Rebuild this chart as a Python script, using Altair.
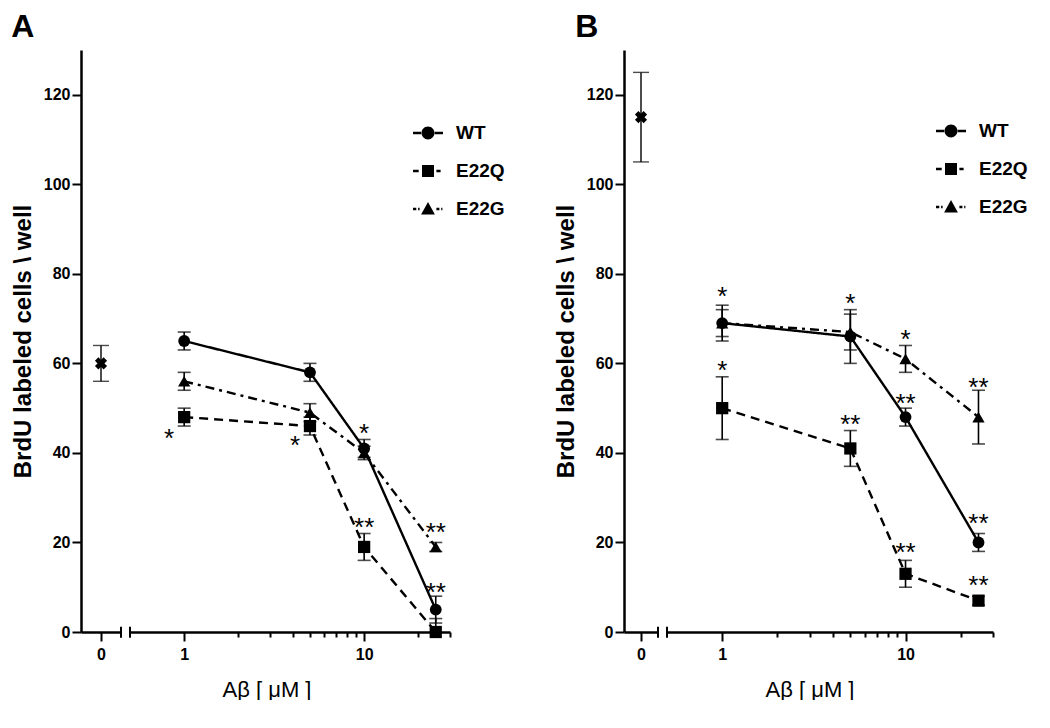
import altair as alt
import pandas as pd

FONT = "Liberation Sans"

# ---------------- data ----------------
CONC = [1, 5, 10, 25]
SERIES = ["WT", "E22Q", "E22G"]

A_WT = [65, 58, 41, 5]
A_WT_ERR = [2, 2, 2, 3]
A_E22Q = [48, 46, 19, 0]
A_E22Q_ERR = [2, 2, 3, 3]
A_E22G = [56, 49, 40, 19]
A_E22G_ERR = [2, 2, 1.5, 1]
A_CTRL = 60
A_CTRL_ERR = 4

B_WT = [69, 66, 48, 20]
B_WT_ERR = [4, 6, 2, 2]
B_E22Q = [50, 41, 13, 7]
B_E22Q_ERR = [7, 4, 3, 1]
B_E22G = [69, 67, 61, 48]
B_E22G_ERR = [3, 4, 3, 6]
B_CTRL = 115
B_CTRL_ERR = 10

# significance marks (x = concentration, y = level in data units)
A_STAR_X = [10, 10, 25, 25]
A_STAR_Y = [45.8, 24.8, 23.7, 10.3]
A_STAR_T = ["*", "**", "**", "**"]
A_STARL_X = [1, 5]
A_STARL_Y = [44.7, 43.1]
A_STARL_T = ["*", "*"]

B_STAR_X = [1, 1, 5, 10, 10, 5, 25, 25, 10, 25]
B_STAR_Y = [76.3, 59.9, 74.8, 66.8, 52.6, 47.7, 56.1, 25.7, 19.1, 11.8]
B_STAR_T = ["*", "*", "*", "*", "**", "**", "**", "**", "**", "**"]
B_STARL_X = []
B_STARL_Y = []
B_STARL_T = []

Y_TICKS = [0, 20, 40, 60, 80, 100, 120]
LOG_TICKS = [1, 2, 3, 4, 5, 6, 7, 8, 9, 10, 20, 30]

# ---------------- styling ----------------
Y_DOMAIN = [0, 130]
LOG_DOMAIN = [0.5, 30]
H = 582
GAP = 7

DASHES = {"WT": [1, 0], "E22Q": [9, 6], "E22G": [9, 5, 3, 5]}
SHAPES = {"WT": "circle", "E22Q": "square", "E22G": "triangle-up"}
SIZES = {"WT": 140, "E22Q": 150, "E22G": 150}
# legend glyphs: line pieces drawn as thin filled bars plus the marker
LEG_PATHS = [
    "M-1,-0.08H-0.4V0.08H-1Z M0.4,-0.08H1V0.08H0.4Z "
    "M-0.43,0A0.43,0.43,0,1,0,0.43,0A0.43,0.43,0,1,0,-0.43,0Z",
    "M-1,-0.08H-0.62V0.08H-1Z M0.56,-0.08H0.84V0.08H0.56Z M-0.4,-0.4H0.4V0.4H-0.4Z",
    "M-1,-0.08H-0.78V0.08H-1Z M-0.66,-0.08H-0.56V0.08H-0.66Z "
    "M0.56,-0.08H0.76V0.08H0.56Z M0.88,-0.08H0.96V0.08H0.88Z M0,-0.46L0.46,0.36H-0.46Z",
]


def yscale():
    return alt.Scale(domain=Y_DOMAIN, nice=False, zero=False)


def make_panel(vals, errs, ctrl, ctrl_err, stars, starsl, letter, letter_dx,
               zero_w, log_w, leg_x, leg_y):
    # control (zero) sub-plot
    cdf = pd.DataFrame({"conc": [0], "value": [ctrl],
                        "lo": [ctrl - ctrl_err], "hi": [ctrl + ctrl_err]})
    xz = alt.X("conc:Q", scale=alt.Scale(domain=[-1, 1], nice=False, zero=False),
               axis=alt.Axis(values=[0], title=None, tickSize=9, labelPadding=5))
    yz = alt.Y("value:Q", scale=yscale(),
               axis=alt.Axis(values=Y_TICKS, title="BrdU labeled cells \\ well",
                             tickSize=9, labelPadding=2, titleFontSize=24,
                             titleFontWeight="bold", titlePadding=8))
    cbase = alt.Chart(cdf)
    c_pt = cbase.mark_point(shape="cross", angle=45, filled=True, size=150,
                            color="black", opacity=1).encode(x=xz, y=yz)
    c_rule = cbase.mark_rule(color="black", strokeWidth=1.4).encode(
        x="conc:Q", y=alt.Y("lo:Q", scale=yscale()), y2="hi:Q")
    c_cap = alt.Chart(cdf).transform_fold(["lo", "hi"], as_=["k", "v"]).mark_tick(
        orient="horizontal", color="black", size=16, thickness=1.4).encode(
        x="conc:Q", y=alt.Y("v:Q", scale=yscale()))
    brk = alt.Chart(pd.DataFrame({"k": [0]})).mark_rule(color="black", strokeWidth=2).encode(
        x=alt.datum(1), y=alt.datum(-1.3), y2=alt.datum(1.2))
    zero_chart = alt.layer(c_rule, c_cap, c_pt, brk).properties(width=zero_w, height=H)

    # log sub-plot
    rows = []
    for s in SERIES:
        for c, v, e in zip(CONC, vals[s], errs[s]):
            rows.append({"series": s, "conc": c, "value": v,
                         "lo": max(v - e, 0), "hi": v + e})
    df = pd.DataFrame(rows)
    tx = (zero_w + GAP + log_w) / 2 - zero_w - GAP
    xl = alt.X("conc:Q", scale=alt.Scale(type="log", domain=LOG_DOMAIN, nice=False),
               axis=alt.Axis(values=LOG_TICKS, labelOverlap=False,
                             labelExpr="datum.value == 1 ? '1' : (datum.value == 10 ? '10' : '')",
                             tickSize={"condition": {"test": "datum.value == 1 || datum.value == 10",
                                                     "value": 9}, "value": 5},
                             labelPadding=5,
                             title="A\u03b2 [ \u03bcM ]", titleFontSize=22,
                             titleFontWeight="normal", titleX=tx, titlePadding=17))
    yl = alt.Y("value:Q", scale=yscale(), axis=None)
    base = alt.Chart(df)
    layers = []
    layers.append(base.mark_rule(color="black", strokeWidth=1.6).encode(
        x=xl, y=alt.Y("lo:Q", scale=yscale(), axis=None), y2="hi:Q"))
    layers.append(base.transform_fold(["lo", "hi"], as_=["k", "v"]).mark_tick(
        orient="horizontal", color="black", size=13, thickness=1.6).encode(
        x="conc:Q", y=alt.Y("v:Q", scale=yscale(), axis=None)))
    for s in SERIES:
        sub = base.transform_filter(alt.datum.series == s)
        layers.append(sub.mark_line(color="black", strokeWidth=2.4,
                                    strokeDash=DASHES[s]).encode(x="conc:Q", y=yl,
                                                                 order="conc:Q"))
    for s in SERIES:
        sub = base.transform_filter(alt.datum.series == s)
        layers.append(sub.mark_point(shape=SHAPES[s], filled=True, color="black",
                                     opacity=1, size=SIZES[s]).encode(x="conc:Q", y=yl))
    sdf = pd.DataFrame({"conc": stars[0], "value": stars[1], "t": stars[2]})
    layers.append(alt.Chart(sdf).mark_text(font=FONT, fontSize=26, baseline="alphabetic",
                                           dy=15, color="black").encode(
        x="conc:Q", y=yl, text="t:N"))
    if len(starsl[0]):
        ldf = pd.DataFrame({"conc": starsl[0], "value": starsl[1], "t": starsl[2]})
        layers.append(alt.Chart(ldf).mark_text(font=FONT, fontSize=26, baseline="alphabetic",
                                               dy=15, dx=-15, color="black").encode(
            x="conc:Q", y=yl, text="t:N"))
    layers.append(alt.Chart(pd.DataFrame({"k": [0]})).mark_rule(color="black", strokeWidth=2).encode(
        x=alt.datum(0.5), y=alt.datum(-1.3), y2=alt.datum(1.2)))
    # legend (built from the shape scale only)
    legdf = pd.DataFrame({"series": SERIES})
    layers.append(alt.Chart(legdf).transform_filter("false").mark_point(
        filled=True, fill="black", opacity=1).encode(
        shape=alt.Shape("series:N", scale=alt.Scale(domain=SERIES, range=LEG_PATHS),
                        legend=alt.Legend(orient="none", legendX=leg_x, legendY=leg_y,
                                          title=None, symbolSize=900,
                                          symbolFillColor="black",
                                          symbolOpacity=1, labelFont=FONT, labelFontSize=19,
                                          labelFontWeight="bold", labelColor="black",
                                          rowPadding=12, labelOffset=12, padding=0))))
    log_chart = alt.layer(*layers).properties(width=log_w, height=H)

    panel = alt.hconcat(zero_chart, log_chart, spacing=GAP).resolve_scale(
        shape="independent").properties(
        title=alt.TitleParams(letter, anchor="start", fontSize=32, fontWeight="bold",
                              font=FONT, color="black", offset=6, dx=letter_dx))
    return panel


panelA = make_panel({"WT": A_WT, "E22Q": A_E22Q, "E22G": A_E22G},
                    {"WT": A_WT_ERR, "E22Q": A_E22Q_ERR, "E22G": A_E22G_ERR},
                    A_CTRL, A_CTRL_ERR, (A_STAR_X, A_STAR_Y, A_STAR_T),
                    (A_STARL_X, A_STARL_Y, A_STARL_T), "A", 0, 40, 320, 282, 67)
panelB = make_panel({"WT": B_WT, "E22Q": B_E22Q, "E22G": B_E22G},
                    {"WT": B_WT_ERR, "E22Q": B_E22Q_ERR, "E22G": B_E22G_ERR},
                    B_CTRL, B_CTRL_ERR, (B_STAR_X, B_STAR_Y, B_STAR_T),
                    (B_STARL_X, B_STARL_Y, B_STARL_T), "B", 21, 34, 326, 268, 65)

chart = alt.hconcat(panelA, panelB, spacing=49).resolve_scale(
    shape="independent").properties(
    padding={"left": 3, "top": 3, "right": 0, "bottom": 0},
    background="white").configure_view(
    stroke=None).configure_axis(
    domainColor="black", tickColor="black", labelColor="black", titleColor="black",
    grid=False, domainWidth=2.5, tickWidth=2, labelFont=FONT, titleFont=FONT,
    labelFontSize=16, labelFontWeight="bold")

chart.save("out.html", embed_options={"renderer": "svg", "actions": False})
